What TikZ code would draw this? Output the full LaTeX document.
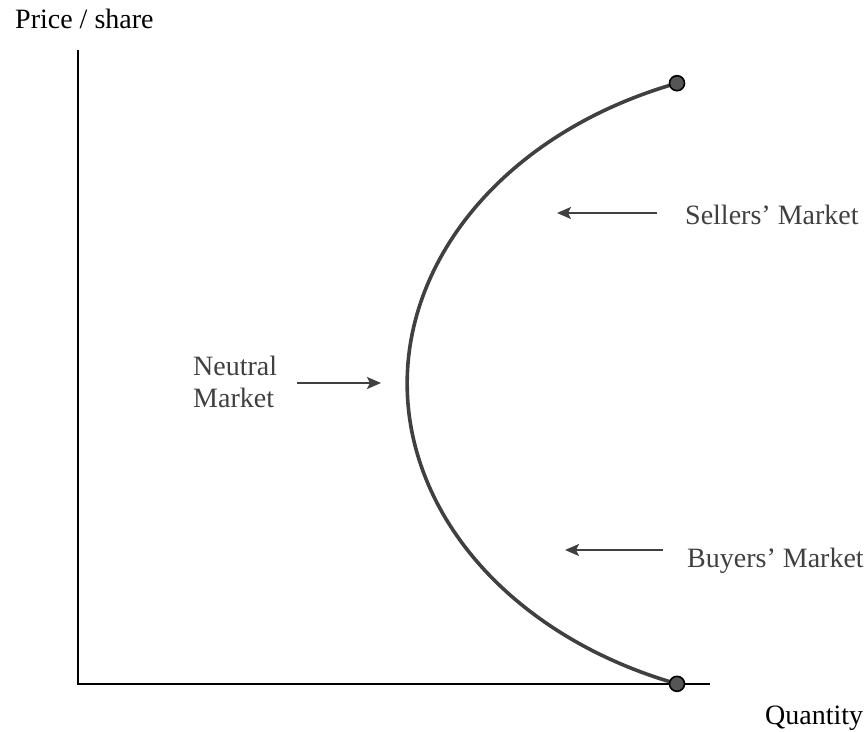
\documentclass[tikz,border=0pt]{standalone}
\usepackage{fontspec}
\setmainfont{Liberation Serif}
\usetikzlibrary{arrows.meta}
\definecolor{ink}{HTML}{404040}
\definecolor{dotfill}{HTML}{555555}
\tikzset{
  axisline/.style={draw=black, line width=2pt},
  curveline/.style={draw=ink, line width=3.6pt},
  pointer/.style={draw=ink, line width=2pt, -{Stealth[length=14pt,width=12pt,inset=3pt]}},
  enddot/.style={circle, fill=dotfill, draw=black, line width=1.6pt, minimum size=15pt, inner sep=0pt},
  lbl/.style={text=ink, font=\fontsize{28}{32}\selectfont, inner sep=0pt},
  axlbl/.style={text=black, font=\fontsize{28}{32}\selectfont, inner sep=0pt}
}
\begin{document}
\begin{tikzpicture}[x=1pt,y=1pt]
\useasboundingbox (0,0) rectangle (866,731);
% axes
\coordinate (ytop) at (78,681);
\coordinate (origin) at (78,47);
\coordinate (xend) at (710,47);
\draw[axisline] (ytop) -- (origin) -- (xend);
% curve
\coordinate (ctop) at (677,647.8);
\draw[curveline] (ctop) arc[start angle=110.2, end angle=249.8, x radius=412, y radius=320] coordinate (cbot);
\node[enddot] (topdot) at (ctop) {};
\node[enddot] (botdot) at (cbot) {};
% labels
\node[axlbl, anchor=base west] (price) at (15,702) {Price / share};
\node[axlbl, anchor=base west] (qty) at (765,7) {Quantity};
\node[lbl, anchor=base west] (sellers) at (685,506) {Sellers’ Market};
\node[lbl, anchor=base west] (buyers) at (687,164) {Buyers’ Market};
\node[lbl, anchor=base west] (neutral1) at (193,355) {Neutral};
\node[lbl, anchor=base west] (neutral2) at (193,323) {Market};
% arrows
\coordinate (sA) at (657,518);
\coordinate (sB) at (557,518);
\coordinate (bA) at (663,181);
\coordinate (bB) at (565,181);
\coordinate (nA) at (297,348);
\coordinate (nB) at (381,348);
\draw[pointer] (sA) -- (sB);
\draw[pointer] (bA) -- (bB);
\draw[pointer] (nA) -- (nB);
\end{tikzpicture}
\end{document}
